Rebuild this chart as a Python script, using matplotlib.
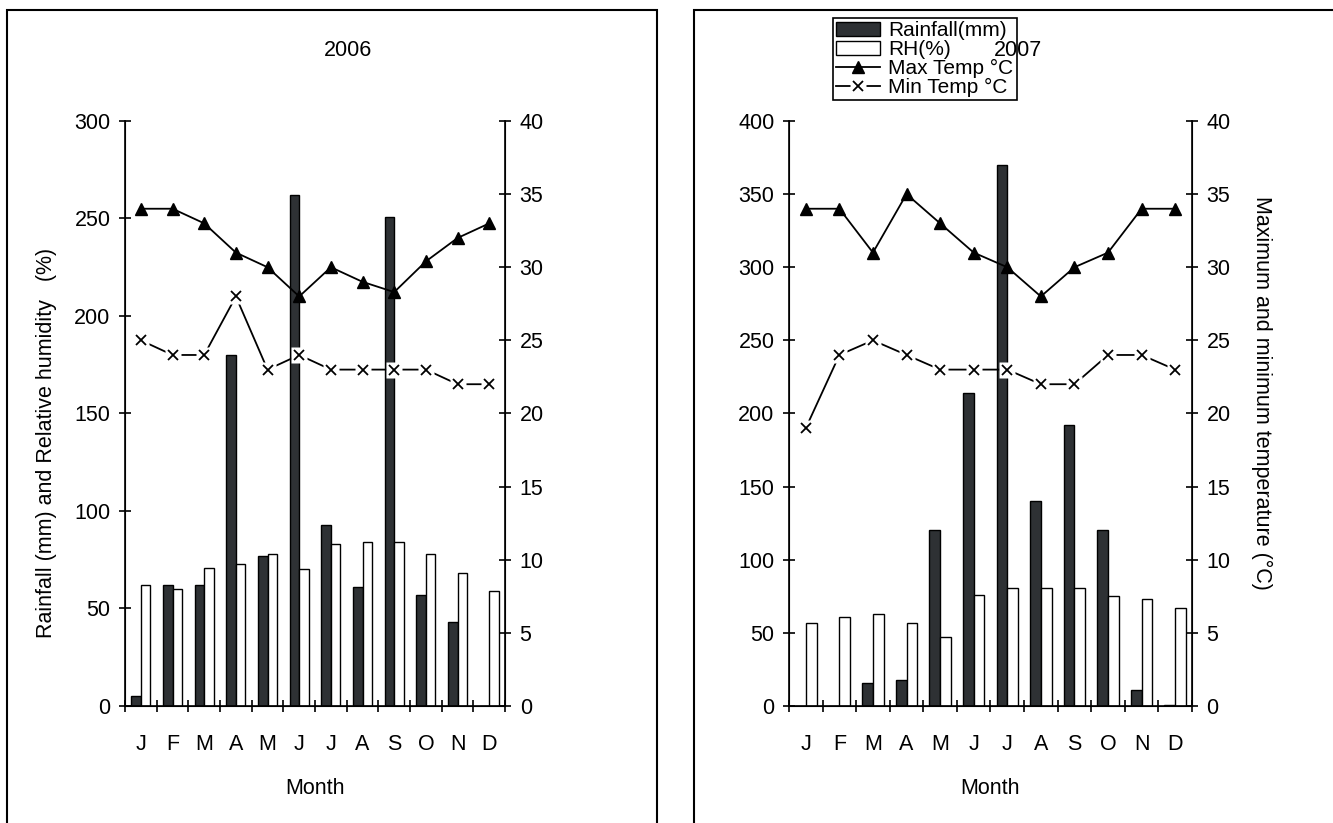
import numpy as np
import matplotlib
matplotlib.use('Agg')
import matplotlib.pyplot as plt
from matplotlib.patches import Rectangle, Patch
from matplotlib.lines import Line2D

plt.rcParams['font.family'] = ['Liberation Sans', 'DejaVu Sans']
plt.rcParams['font.size'] = 15.5

months = ['J', 'F', 'M', 'A', 'M', 'J', 'J', 'A', 'S', 'O', 'N', 'D']

rain_2006 = [5, 62, 62, 180, 77, 262, 93, 61, 251, 57, 43, 0]
rh_2006 = [62, 60, 71, 73, 78, 70, 83, 84, 84, 78, 68, 59]
tmax_2006 = [34, 34, 33, 31, 30, 28, 30, 29, 28.3, 30.4, 32, 33]
tmin_2006 = [25, 24, 24, 28, 23, 24, 23, 23, 23, 23, 22, 22]

rain_2007 = [0, 0, 16, 18, 120, 214, 370, 140, 192, 120, 11, 1]
rh_2007 = [57, 61, 63, 57, 47, 76, 81, 81, 81, 75, 73, 67]
tmax_2007 = [34, 34, 31, 35, 33, 31, 30, 28, 30, 31, 34, 34]
tmin_2007 = [19, 24, 25, 24, 23, 23, 23, 22, 22, 24, 24, 23]

dark = '#2e3134'
fs = 15.5
x = np.arange(len(months))

fig = plt.figure(figsize=(13.33, 8.23), dpi=100)

# panel frames
fig.add_artist(Rectangle((0.0053, -0.02), 0.4875, 1.0078, transform=fig.transFigure,
                         fill=False, lw=1.5, ec='black', clip_on=False))
fig.add_artist(Rectangle((0.5206, -0.02), 0.49, 1.0078, transform=fig.transFigure,
                         fill=False, lw=1.5, ec='black', clip_on=False))


def style_axes(ax, ax2):
    for a in (ax, ax2):
        a.spines['top'].set_visible(False)
        a.tick_params(axis='y', direction='inout', length=9, width=1.2, pad=6, labelsize=fs)
    ax.spines['left'].set_linewidth(1.2)
    ax.spines['bottom'].set_linewidth(1.2)
    ax2.spines['right'].set_linewidth(1.2)
    ax.set_xlim(-0.5, 11.5)
    ax.set_xticks(np.arange(-0.5, 12, 1))
    ax.set_xticklabels([])
    ax.tick_params(axis='x', which='major', direction='inout', length=9, width=1.2)
    ax.set_xticks(x, minor=True)
    ax.set_xticklabels(months, minor=True)
    ax.tick_params(axis='x', which='minor', length=0, pad=20, labelsize=fs)
    ax.set_xlabel('Month', fontsize=fs, labelpad=17)
    ax2.set_ylim(0, 40)
    ax2.set_yticks(np.arange(0, 41, 5))


def draw_panel(rect, rain, rh, tmax, tmin, ymax, w):
    ax = fig.add_axes(rect)
    ax.bar(x - w / 2, rain, w, color=dark, edgecolor='black', lw=1)
    ax.bar(x + w / 2, rh, w, color='white', edgecolor='black', lw=1)
    ax.set_ylim(0, ymax)
    ax.set_yticks(np.arange(0, ymax + 1, 50))
    ax2 = ax.twinx()
    ax2.plot(x, tmax, color='black', lw=1.3, marker='^', ms=9)
    ax2.plot(x, tmin, color='black', lw=1.3)
    ax2.plot(x, tmin, ls='none', marker='s', ms=11, mfc='white', mec='none')
    ax2.plot(x, tmin, ls='none', marker='x', ms=7, mew=1.3, color='black')
    style_axes(ax, ax2)
    return ax, ax2


ax_a, ax_a2 = draw_panel([0.0938, 0.1422, 0.2851, 0.7108], rain_2006, rh_2006,
                         tmax_2006, tmin_2006, 300, 0.3)
ax_a.set_ylabel('Rainfall (mm) and Relative humidity   (%)', fontsize=fs)
ax_a.yaxis.set_label_coords(-0.18, 0.45)
fig.text(0.261, 0.939, '2006', ha='center', va='center', fontsize=fs)

ax_b, ax_b2 = draw_panel([0.5919, 0.1422, 0.3023, 0.7108], rain_2007, rh_2007,
                         tmax_2007, tmin_2007, 400, 0.32)
ax_b2.set_ylabel('Maximum and minimum temperature (\u00b0C)', fontsize=fs, rotation=270)
ax_b2.yaxis.set_label_coords(1.20, 0.535)

# legend
h_rain = Patch(facecolor=dark, edgecolor='black', lw=1)
h_rh = Patch(facecolor='white', edgecolor='black', lw=1)
h_max = Line2D([], [], color='black', lw=1.3, marker='^', ms=9)
h_min = (Line2D([], [], color='black', lw=1.3),
         Line2D([], [], ls='none', marker='s', ms=11, mfc='white', mec='none'),
         Line2D([], [], ls='none', marker='x', ms=7, mew=1.3, color='black'))
leg = fig.legend([h_rain, h_rh, h_max, h_min],
                 ['Rainfall(mm)', 'RH(%)', 'Max Temp \u00b0C', 'Min Temp \u00b0C'],
                 loc='upper left', bbox_to_anchor=(0.625, 0.978), borderaxespad=0,
                 fontsize=15, frameon=True, fancybox=False, edgecolor='black',
                 facecolor='white', framealpha=1,
                 borderpad=0.15, labelspacing=0.0, handlelength=2.1, handleheight=0.6,
                 handletextpad=0.4)
leg.get_frame().set_linewidth(1.2)

fig.text(0.764, 0.939, '2007', ha='center', va='center', fontsize=fs, zorder=10)

fig.savefig('out.png', dpi=100)
